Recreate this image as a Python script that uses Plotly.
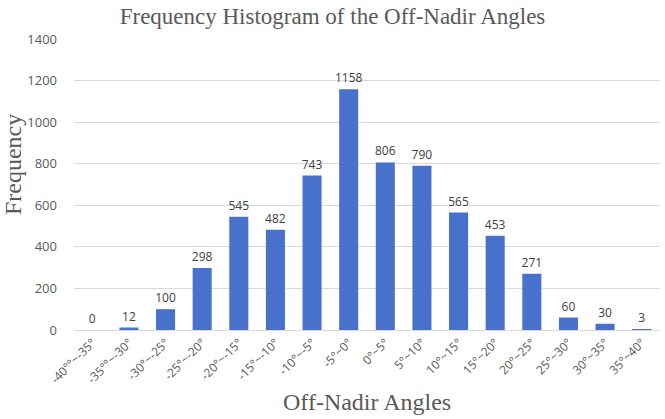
import plotly.graph_objects as go

# Histogram of off-nadir angles
angleBins = ["-40°°~-35°", "-35°°~-30°", "-30°~-25°", "-25°~-20°", "-20°~-15°",
             "-15°~-10°", "-10°~-5°", "-5°~0°", "0°~5°", "5°~10°", "10°~15°",
             "15°~20°", "20°~25°", "25°~30°", "30°~35°", "35°~40°"]
counts = [0, 12, 100, 298, 545, 482, 743, 1158, 806, 790, 565, 453, 271, 60, 30, 3]
yTicks = [0, 200, 400, 600, 800, 1000, 1200, 1400]

# Variables
barColor = "#4771cb"
textColor = "#595959"
gridColor = "#d9d9d9"
serif = "Liberation Serif"
sans = "Open Sans"
wide = 665
tall = 419

fig = go.Figure()
fig.add_trace(go.Bar(x=angleBins, y=counts, text=counts, textposition="outside",
                     textfont=dict(family=sans, size=12, color="#404040"),
                     marker=dict(color=barColor, line=dict(width=0)),
                     cliponaxis=False, constraintext="none"))

fig.update_layout(width=wide, height=tall, plot_bgcolor="white", paper_bgcolor="white",
                  margin=dict(l=74, r=5, t=39, b=89), bargap=0.48, showlegend=False,
                  title=dict(text="Frequency Histogram of the Off-Nadir Angles", x=0.5, xanchor="center",
                             y=0.962, yanchor="middle", font=dict(family=serif, size=23, color=textColor)),
                  font=dict(family=sans, color=textColor))
fig.update_xaxes(tickangle=-45, tickfont=dict(family=sans, size=12, color=textColor), automargin=False,
                 showline=True, linecolor=gridColor, linewidth=1, ticks="", showgrid=False)
fig.update_yaxes(range=[0, 1400], tickvals=yTicks, tickfont=dict(family=sans, size=13, color=textColor),
                 showgrid=True, gridcolor=gridColor, gridwidth=1, zeroline=False, showline=False,
                 ticklabelstandoff=16, automargin=False)

# Axis titles
fig.add_annotation(text="Off-Nadir Angles", xref="paper", yref="paper", x=0.5, y=-0.247,
                   xanchor="center", yanchor="middle", showarrow=False,
                   font=dict(family=serif, size=24, color=textColor))
fig.add_annotation(text="Frequency", xref="paper", yref="paper", x=-0.104, y=0.567,
                   xanchor="center", yanchor="middle", showarrow=False, textangle=-90,
                   font=dict(family=serif, size=24, color=textColor))

fig.write_html("out.html", config={"displayModeBar": False},
               post_script="document.body.style.margin='0';")
